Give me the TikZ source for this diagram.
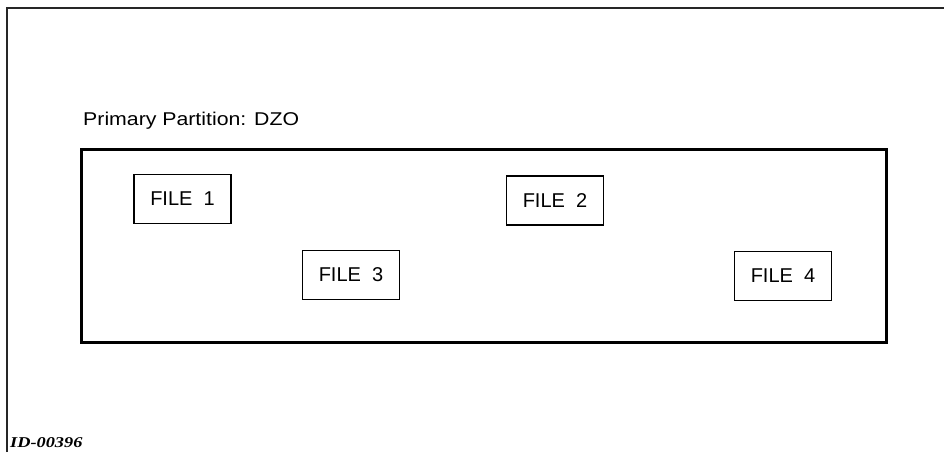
\documentclass[tikz,border=0pt]{standalone}
\usepackage{fontspec}
\setmainfont{Liberation Sans}
\newfontfamily\idfont{Liberation Serif}
\usepackage{tikz}
\usetikzlibrary{positioning}

\begin{document}
\begin{tikzpicture}[x=1pt, y=-1pt,
  frame/.style={line width=1.4pt, black!85},
  partition/.style={draw, line width=3pt, minimum width=805pt, minimum height=193pt, inner sep=0pt},
  filebox/.style={draw, line width=1.6pt, minimum width=97pt, minimum height=49pt, inner sep=0pt, font=\fontsize{20}{24}\selectfont},
  caption/.style={anchor=base west, inner sep=0pt, font=\fontsize{18.5}{22}\selectfont, xscale=1.15, transform shape},
  figid/.style={anchor=base west, inner sep=0pt, font=\idfont\itshape\bfseries\fontsize{15}{18}\selectfont, xscale=1.22, transform shape}
]
  \useasboundingbox (0,0) rectangle (944,452);

  % open page frame (top and left edges only)
  \draw[frame] (7,452) -- (7,8) -- (944,8);

  % partition with its title
  \node[caption] (title) at (83,125.7) {Primary Partition: DZO};
  \node[partition] (part) at (483.5,245.5) {};

  % files inside the partition
  \node[filebox] (file1) at (182.5,199) {FILE\ \ 1};
  \node[filebox] (file2) at (555,200.5) {FILE\ \ 2};
  \node[filebox] (file3) at (351,275) {FILE\ \ 3};
  \node[filebox] (file4) at (783,276) {FILE\ \ 4};

  % figure number
  \node[figid] (figno) at (10,447) {ID-00396};
\end{tikzpicture}
\end{document}
